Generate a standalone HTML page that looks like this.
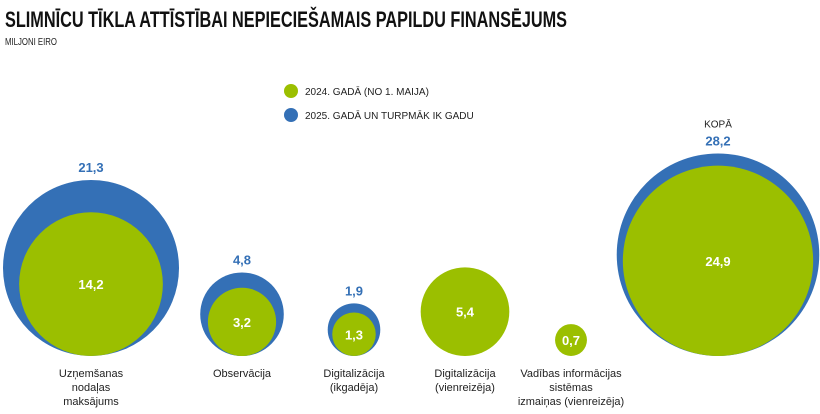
<!DOCTYPE html>
<html><head><meta charset="utf-8"><style>
body{margin:0;background:#fff}
svg text{font-family:"Liberation Sans Narrow","Liberation Sans",sans-serif}
</style></head><body>
<svg width="820" height="409" viewBox="0 0 820 409" xmlns="http://www.w3.org/2000/svg">
<text x="5" y="27" font-size="22" font-weight="bold" fill="#111" textLength="562" lengthAdjust="spacingAndGlyphs">SLIMNĪCU TĪKLA ATTĪSTĪBAI NEPIECIEŠAMAIS PAPILDU FINANSĒJUMS</text>
<text x="5" y="45" font-size="10" fill="#222" textLength="52" lengthAdjust="spacingAndGlyphs">MILJONI EIRO</text>
<g>
<circle cx="291" cy="91" r="7" fill="#9bbf00"/>
<text x="305" y="95" font-size="10" fill="#222">2024. GADĀ (NO 1. MAIJA)</text>
<circle cx="291" cy="115" r="7" fill="#3470b6"/>
<text x="305" y="119" font-size="10" fill="#222">2025. GADĀ UN TURPMĀK IK GADU</text>
</g>
<g id="bubbles"></g>
</svg>
<script>
const categories=[["Uzņemšanas","nodaļas","maksājums"],["Observācija"],["Digitalizācija","(ikgadēja)"],["Digitalizācija","(vienreizēja)"],["Vadības informācijas","sistēmas","izmaiņas (vienreizēja)"],[]];
const values2025=[21.3,4.8,1.9,null,null,28.2];
const values2024=[14.2,3.2,1.3,5.4,0.7,24.9];
const centersX=[91,242,354,465,571,718];
const baseY=356, k=19.07;
const r=v=>k*Math.sqrt(v);
const fmt=v=>v.toFixed(1).replace('.',',');
const g=document.getElementById('bubbles');
const NS='http://www.w3.org/2000/svg';
function mk(tag,attrs,txt){const e=document.createElementNS(NS,tag);for(const a in attrs)e.setAttribute(a,attrs[a]);if(txt!=null)e.textContent=txt;g.appendChild(e);return e;}
values2024.forEach((v,i)=>{
  const cx=centersX[i];
  const b=values2025[i];
  let top=baseY-2*r(v);
  if(b!=null){
    const rb=r(b);
    const c=mk('circle',{cx:cx,cy:baseY-rb,r:rb,fill:'#3470b6'});
    
    
    const t=mk('text',{x:cx,y:baseY-2*rb-8,'font-size':13,'font-weight':'bold','text-anchor':'middle',fill:'#3470b6'},fmt(b));
    
    
    top=baseY-2*rb;
  }
  const rg=r(v);
  const c2=mk('circle',{cx:cx,cy:baseY-rg,r:rg,fill:'#9bbf00'});
  
  
  const t2=mk('text',{x:cx,y:baseY-rg+5,'font-size':13,'font-weight':'bold','text-anchor':'middle',fill:'#fff'},fmt(v));
  
  
  categories[i].forEach((line,j)=>{
    const l=mk('text',{x:cx,y:377+j*14,'font-size':11,'text-anchor':'middle',fill:'#222'},line);
    
    
  });
  if(i===5){
    const k2=mk('text',{x:cx,y:top-26,'font-size':10,'text-anchor':'middle',fill:'#222'},'KOPĀ');
    
    
  }
});
</script>
</body></html>
